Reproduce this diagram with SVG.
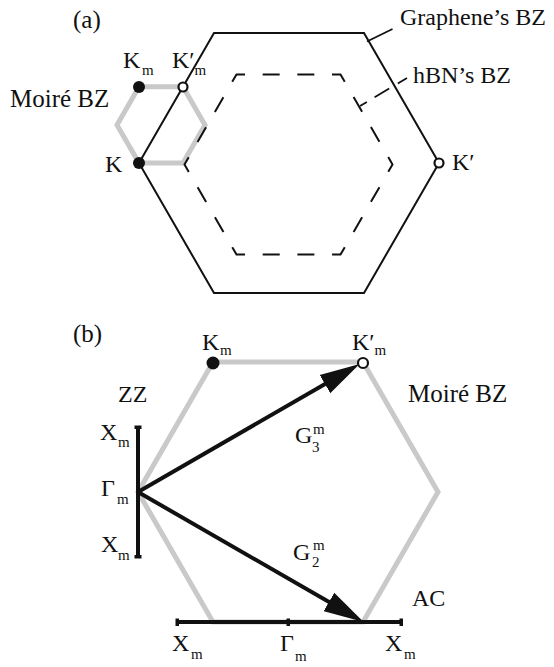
<svg xmlns="http://www.w3.org/2000/svg" width="554" height="667" viewBox="0 0 554 667">
<defs>
<style>
text{font-family:"Liberation Serif","Times New Roman",serif;font-size:24px;fill:#111}
.sub{font-size:15px}
.gray{fill:none;stroke:#c9c9c9;stroke-width:5;stroke-linejoin:miter}
.bz{fill:none;stroke:#111;stroke-width:2}
.dash{fill:none;stroke:#111;stroke-width:2;stroke-dasharray:17 17.667;stroke-dashoffset:8.5}
.dot{fill:#111}
.open{fill:#fff;stroke:#111;stroke-width:2.2}
.bar{stroke:#111;stroke-width:4;fill:none}
.arrow{stroke:#111;stroke-width:4;fill:none;marker-end:url(#head)}
.lead{stroke:#111;stroke-width:1.8;fill:none}
</style>
<marker id="head" markerUnits="userSpaceOnUse" markerWidth="40" markerHeight="22" viewBox="0 0 38 20" refX="2" refY="10" orient="auto">
<path d="M0,0 L38,10 L0,20 z" fill="#111"/>
</marker>
</defs>
<rect width="554" height="667" fill="#fff"/>

<!-- Panel (a) -->
<text id="label-a" x="73" y="28" style="font-size:25px">(a)</text>

<g id="moire-bz-a">
<polygon class="gray" points="139,163 183,163 205,124.9 183,86.8 139,86.8 117,124.9"/>
<text x="10" y="107" style="font-size:25px">Moiré BZ</text>
</g>

<g id="hbn-bz">
<path class="dash" d="M236.5,74.4 L340.5,74.4 L392.5,164.5 L340.5,254.6 L236.5,254.6 L184.5,164.5 Z"/>
<text x="413" y="83">hBN’s BZ</text>
</g>

<g id="graphene-bz">
<polygon class="bz" points="214,33 364,33 439,163 364,293 214,293 139,163"/>
<text x="400" y="25">Graphene’s BZ</text>
</g>

<g id="connectors-a">
<line class="lead" x1="367" y1="41.5" x2="392.5" y2="29"/>
<line class="lead" x1="360" y1="106" x2="407" y2="78" stroke-dasharray="8 9 17 10 12"/>
</g>

<g id="point-Km-a">
<circle class="dot" cx="139" cy="87" r="6"/>
<text x="123" y="68">K<tspan class="sub" x="142" y="75">m</tspan></text>
</g>
<g id="point-Kpm-a">
<circle class="open" cx="183" cy="87" r="4.5"/>
<text x="172" y="68">K′<tspan class="sub" dy="7">m</tspan></text>
</g>
<g id="point-K-a">
<circle class="dot" cx="139" cy="163" r="6"/>
<text x="105" y="172">K</text>
</g>
<g id="point-Kp-a">
<circle class="open" cx="439" cy="163" r="4.5"/>
<text x="452" y="170">K′</text>
</g>

<!-- Panel (b) -->
<text id="label-b" x="73" y="342" style="font-size:25px">(b)</text>

<g id="moire-bz-b">
<polygon class="gray" points="213,362.1 363,362.1 438,492 363,621.9 213,621.9 138,492"/>
<text x="408" y="402" style="font-size:25px">Moiré BZ</text>
</g>

<g id="zz-path">
<line class="bar" x1="138" y1="427" x2="138" y2="557"/>
<rect x="134.5" y="425.5" width="7" height="3.5" fill="#111"/>
<rect x="134.5" y="555" width="7" height="3.5" fill="#111"/>
<text x="118" y="402">ZZ</text>
<text x="100" y="440">X<tspan class="sub" x="118" y="447">m</tspan></text>
<text x="101" y="496">Γ<tspan class="sub" x="117" y="504">m</tspan></text>
<text x="101" y="552">X<tspan class="sub" x="118" y="560">m</tspan></text>
</g>

<g id="ac-path">
<line class="bar" x1="177" y1="622" x2="401" y2="622"/>
<rect x="175.5" y="618.5" width="3.5" height="7.5" fill="#111"/>
<rect x="286.5" y="618.5" width="3.5" height="7.5" fill="#111"/>
<rect x="399.5" y="618.5" width="3.5" height="7.5" fill="#111"/>
<text x="412" y="606">AC</text>
<text x="172" y="651">X<tspan class="sub" x="191" y="659">m</tspan></text>
<text x="280" y="651">Γ<tspan class="sub" x="295" y="661">m</tspan></text>
<text x="385" y="651">X<tspan class="sub" x="404" y="659">m</tspan></text>
</g>

<g id="connectors-b">
<line class="arrow" x1="138" y1="492" x2="326.8" y2="383"/>
<line class="arrow" x1="138" y1="492" x2="330.8" y2="603"/>
</g>

<g id="label-G3">
<text x="295" y="443">G<tspan class="sub" x="313" y="434">m</tspan><tspan class="sub" x="312" y="452">3</tspan></text>
</g>
<g id="label-G2">
<text x="293" y="560">G<tspan class="sub" x="313" y="550">m</tspan><tspan class="sub" x="312" y="567">2</tspan></text>
</g>

<g id="point-Km-b">
<circle class="dot" cx="213" cy="363" r="6.5"/>
<text x="202" y="350">K<tspan class="sub" x="220" y="355">m</tspan></text>
</g>
<g id="point-Kpm-b">
<circle class="open" cx="363" cy="363" r="5"/>
<text x="352" y="350">K′<tspan class="sub" dy="5">m</tspan></text>
</g>
</svg>
